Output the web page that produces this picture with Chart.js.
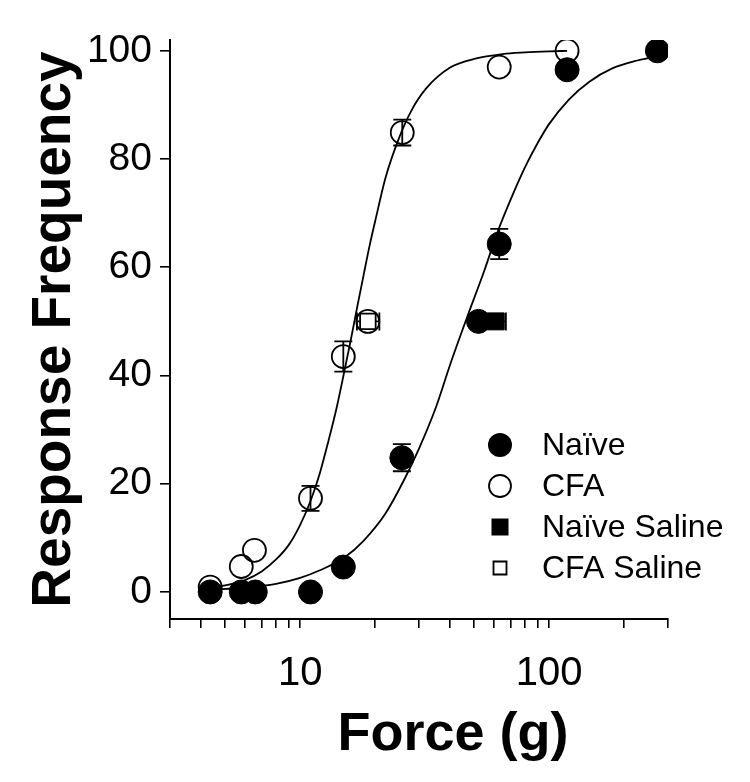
<!DOCTYPE html>
<html>
<head>
<meta charset="utf-8">
<script src="https://cdn.jsdelivr.net/npm/chart.js@4.4.1/dist/chart.umd.min.js"></script>
<style>
  html, body { margin: 0; padding: 0; background: #fff; }
  #wrap { width: 750px; height: 782px; }
</style>
</head>
<body>
<div id="wrap"><canvas id="myChart" width="750" height="782"></canvas></div>
<script>
// series names (legend order)
const seriesNames = ['Naïve', 'CFA', 'Naïve Saline', 'CFA Saline'];

// Naive: force (g), response frequency (%), SEM
const naiveForce = [4.35, 5.8, 6.6, 11, 14.9, 25.6, 52, 63, 118, 272];
const naiveResp  = [0, 0, 0, 0, 4.6, 24.8, 50, 64.3, 96.5, 100];
const naiveErr   = [0, 0, 0, 0, 0, 2.5, 0, 2.8, 0, 0];

// CFA
const cfaForce = [4.35, 5.8, 6.55, 11, 14.9, 18.7, 25.7, 63, 118];
const cfaResp  = [0.9, 4.7, 7.7, 17.3, 43.5, 50, 84.9, 97, 100];
const cfaErr   = [0, 0, 0, 2.3, 2.8, 0, 2.4, 0, 0];

// saline 50% thresholds with force range (low, high)
const naiveSalineForce = [61];
const naiveSalineResp  = [50];
const naiveSalineLow   = [55];
const naiveSalineHigh  = [67];
const cfaSalineForce = [18.7];
const cfaSalineResp  = [50];
const cfaSalineLow   = [16.9];
const cfaSalineHigh  = [20.8];

// fitted curves
const cfaCurveX = [4.35, 5, 6, 7, 8, 9, 10, 11, 12, 13, 14, 15, 16, 17, 18, 19, 20, 22, 25, 28, 32, 40, 50, 65, 80, 100, 118];
const cfaCurveY = [0.7, 1.2, 2.2, 3.8, 6, 8.7, 12.4, 16.8, 22, 28, 34, 40.5, 46.8, 53, 58.7, 64, 68.5, 76.5, 84, 89, 93, 96.9, 98.5, 99.4, 99.7, 99.9, 100];
const naiveCurveX = [4.35, 6, 8, 10, 12, 15, 18, 22, 26, 30, 35, 40, 47, 55, 62, 70, 80, 90, 100, 120, 145, 180, 220, 272];
const naiveCurveY = [0.4, 0.8, 1.5, 2.6, 4, 6.3, 9.5, 14.5, 20.5, 26.5, 34, 42, 51, 59.5, 66.5, 72.5, 78.5, 83, 86.5, 91, 94.3, 96.8, 98.1, 99];

// axis ticks
const xTickValues = [3, 4, 5, 6, 7, 8, 9, 10, 20, 30, 40, 50, 60, 70, 80, 90, 100, 200, 300];
const xTickLabels = [10, 100];
const yTickValues = [0, 20, 40, 60, 80, 100];

const FONT = 'Liberation Sans, Arial, Helvetica, sans-serif';

function pts(xs, ys) { return xs.map((v, i) => ({ x: v, y: ys[i] })); }

const errorBars = {
  id: 'errorBars',
  beforeDatasetsDraw(chart) {
    const { ctx, scales: { x, y } } = chart;
    ctx.save();
    ctx.strokeStyle = '#000';
    ctx.lineWidth = 1.8;
    const cap = 9;
    chart.data.datasets.forEach(ds => {
      ds.data.forEach((p, i) => {
        const px = x.getPixelForValue(p.x), py = y.getPixelForValue(p.y);
        if (ds.yErr && ds.yErr[i]) {
          const t = y.getPixelForValue(p.y + ds.yErr[i]);
          const b = y.getPixelForValue(p.y - ds.yErr[i]);
          ctx.beginPath();
          ctx.moveTo(px, t); ctx.lineTo(px, b);
          ctx.moveTo(px - cap, t); ctx.lineTo(px + cap, t);
          ctx.moveTo(px - cap, b); ctx.lineTo(px + cap, b);
          ctx.stroke();
        }
        if (ds.xLow && ds.xHigh) {
          const l = x.getPixelForValue(ds.xLow[i]);
          const r = x.getPixelForValue(ds.xHigh[i]);
          ctx.beginPath();
          ctx.moveTo(l, py); ctx.lineTo(r, py);
          ctx.moveTo(l, py - cap); ctx.lineTo(l, py + cap);
          ctx.moveTo(r, py - cap); ctx.lineTo(r, py + cap);
          ctx.stroke();
        }
      });
    });
    ctx.restore();
  }
};

const legendAndTitle = {
  id: 'legendAndTitle',
  afterDraw(chart) {
    const { ctx, chartArea } = chart;
    ctx.save();
    // x axis title
    ctx.fillStyle = '#000';
    ctx.font = 'bold 54px ' + FONT;
    ctx.textAlign = 'center';
    ctx.textBaseline = 'alphabetic';
    ctx.fillText('Force (g)', chartArea.left + 283, 750);
    // legend
    const styles = [
      { shape: 'circle', fill: true, r: 12 },
      { shape: 'circle', fill: false, r: 11 },
      { shape: 'rect', fill: true, r: 8.5 },
      { shape: 'rect', fill: false, r: 6.5 }
    ];
    const lx = chartArea.left + 330, ly = chartArea.top + 405;
    ctx.font = '32px ' + FONT;
    ctx.textAlign = 'left';
    ctx.textBaseline = 'middle';
    ctx.lineWidth = 1.8;
    ctx.strokeStyle = '#000';
    seriesNames.forEach((name, i) => {
      const s = styles[i];
      const yy = ly + i * 41;
      ctx.beginPath();
      if (s.shape === 'circle') ctx.arc(lx, yy, s.r, 0, Math.PI * 2);
      else ctx.rect(lx - s.r, yy - s.r, s.r * 2, s.r * 2);
      if (s.fill) ctx.fill(); else ctx.stroke();
      ctx.fillText(name, lx + 42, yy + 1);
    });
    ctx.restore();
  }
};

new Chart(document.getElementById('myChart'), {
  type: 'scatter',
  data: {
    datasets: [
      {
        label: seriesNames[0],
        data: pts(naiveForce, naiveResp),
        yErr: naiveErr,
        pointStyle: 'circle',
        pointRadius: 12,
        pointBorderWidth: 1,
        backgroundColor: '#000',
        borderColor: '#000',
        order: 0
      },
      {
        label: seriesNames[1],
        data: pts(cfaForce, cfaResp),
        yErr: cfaErr,
        pointStyle: 'circle',
        pointRadius: 11.5,
        pointBorderWidth: 1.8,
        backgroundColor: 'rgba(255,255,255,0)',
        borderColor: '#000',
        order: 0
      },
      {
        label: seriesNames[2],
        data: pts(naiveSalineForce, naiveSalineResp),
        xLow: naiveSalineLow,
        xHigh: naiveSalineHigh,
        pointStyle: 'rect',
        pointRadius: 12,
        pointBorderWidth: 1,
        backgroundColor: '#000',
        borderColor: '#000',
        order: 1
      },
      {
        label: seriesNames[3],
        data: pts(cfaSalineForce, cfaSalineResp),
        xLow: cfaSalineLow,
        xHigh: cfaSalineHigh,
        pointStyle: 'rect',
        pointRadius: 11,
        pointBorderWidth: 1.8,
        backgroundColor: '#fff',
        borderColor: '#000',
        order: 1
      },
      {
        label: 'CFA fit',
        data: pts(cfaCurveX, cfaCurveY),
        showLine: true,
        pointRadius: 0,
        borderColor: '#000',
        borderWidth: 1.8,
        cubicInterpolationMode: 'monotone',
        order: 2
      },
      {
        label: 'Naïve fit',
        data: pts(naiveCurveX, naiveCurveY),
        showLine: true,
        pointRadius: 0,
        borderColor: '#000',
        borderWidth: 1.8,
        cubicInterpolationMode: 'monotone',
        order: 2
      }
    ]
  },
  options: {
    responsive: false,
    animation: false,
    layout: { padding: { top: 40, right: 82, left: 0, bottom: 0 } },
    plugins: {
      legend: { display: false },
      tooltip: { enabled: false }
    },
    scales: {
      x: {
        type: 'logarithmic',
        min: 3,
        max: 300,
        afterBuildTicks: scale => {
          scale.ticks = xTickValues.map(v => ({ value: v }));
        },
        afterFit: scale => { scale.height = 163; },
        ticks: {
          autoSkip: false,
          maxRotation: 0,
          padding: 22,
          color: '#000',
          font: { family: FONT, size: 40 },
          callback: value => xTickLabels.includes(value) ? String(value) : ''
        },
        grid: { drawOnChartArea: false, drawTicks: true, tickLength: 9, color: '#000', lineWidth: 1.6 },
        border: { display: true, color: '#000', width: 2 },
        title: { display: false }
      },
      y: {
        min: -5,
        max: 102,
        afterBuildTicks: scale => {
          scale.ticks = yTickValues.map(v => ({ value: v }));
        },
        afterFit: scale => { scale.width = 170; },
        ticks: {
          padding: 8,
          color: '#000',
          font: { family: FONT, size: 39 }
        },
        grid: { drawOnChartArea: false, drawTicks: true, tickLength: 10, color: '#000', lineWidth: 1.6 },
        border: { display: true, color: '#000', width: 2 },
        title: {
          display: true,
          text: 'Response Frequency',
          color: '#000',
          font: { family: FONT, size: 55, weight: 'bold' },
          padding: { top: 22, bottom: 0 }
        }
      }
    }
  },
  plugins: [errorBars, legendAndTitle]
});
</script>
</body>
</html>
